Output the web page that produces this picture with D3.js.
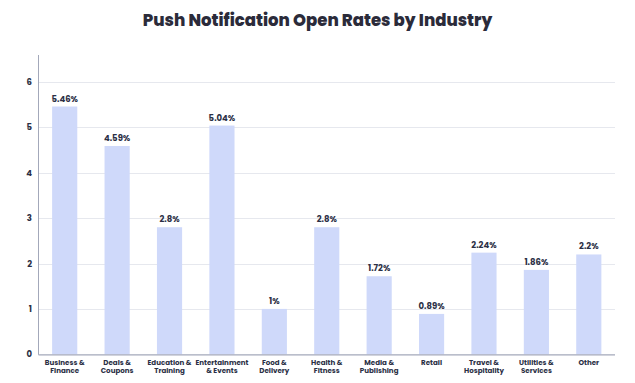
<!DOCTYPE html>
<html><head><meta charset="utf-8">
<script src="https://cdn.jsdelivr.net/npm/d3@7"></script>
<style>body{margin:0;background:#fff;}svg{display:block;font-family:"Poppins","Inter","Lato",sans-serif;}</style>
</head><body>
<script>
const categories = [["Business &","Finance"],["Deals &","Coupons"],["Education &","Training"],["Entertainment","& Events"],["Food &","Delivery"],["Health &","Fitness"],["Media &","Publishing"],["Retail"],["Travel &","Hospitality"],["Utilities &","Services"],["Other"]];
const values = [5.46,4.59,2.8,5.04,1,2.8,1.72,0.89,2.24,1.86,2.2];
const valueLabels = ["5.46%","4.59%","2.8%","5.04%","1%","2.8%","1.72%","0.89%","2.24%","1.86%","2.2%"];
const yTicks = [0,1,2,3,4,5,6];
const title = "Push Notification Open Rates by Industry";

const W=635,H=383;
const svg=d3.select("body").append("svg").attr("width",W).attr("height",H);
svg.append("text").attr("x",317.5).attr("y",26).attr("text-anchor","middle")
  .attr("font-size",16.5).attr("font-weight",800).attr("fill","#2b2b3a").text(title);

const x=d3.scaleBand().domain(d3.range(categories.length)).range([38.5,615]).paddingInner(0.52).paddingOuter(0.26);
const y=d3.scaleLinear().domain([0,6]).range([354.3,82]);

const g=svg.append("g");
g.selectAll("line.grid").data(yTicks.filter(d=>d>0)).join("line")
  .attr("x1",38.5).attr("x2",615).attr("y1",d=>Math.round(y(d))+0.5).attr("y2",d=>Math.round(y(d))+0.5)
  .attr("stroke","#e6e8ee").attr("stroke-width",1);

g.selectAll("rect").data(values).join("rect")
  .attr("x",(d,i)=>x(i)).attr("width",x.bandwidth())
  .attr("y",d=>y(d)).attr("height",d=>y(0)-y(d)).attr("fill","#cfd9fa");

g.selectAll("text.val").data(values).join("text")
  .attr("x",(d,i)=>x(i)+x.bandwidth()/2).attr("y",d=>y(d)-5)
  .attr("text-anchor","middle").attr("font-size",8.5).attr("font-weight",700).attr("fill","#2b2f45")
  .text((d,i)=>valueLabels[i]);

// axes
g.append("line").attr("x1",38.5).attr("x2",38.5).attr("y1",55).attr("y2",y(0)+0.5).attr("stroke","#a3a8ba").attr("stroke-width",1);
g.append("line").attr("x1",38.5).attr("x2",615).attr("y1",y(0)+0.5).attr("y2",y(0)+0.5).attr("stroke","#a3a8ba").attr("stroke-width",1.2);

g.selectAll("text.yt").data(yTicks).join("text")
  .attr("x",32).attr("y",d=>y(d)+3).attr("text-anchor","end")
  .attr("font-size",8.5).attr("font-weight",700).attr("fill","#2b2f45").text(d=>d);

const lines=[];
categories.forEach((d,i)=>d.forEach((s,k)=>lines.push({i,k,s})));
g.selectAll("text.xl").data(lines).join("text")
  .attr("x",d=>x(d.i)+x.bandwidth()/2).attr("y",d=>365+d.k*8.2)
  .attr("text-anchor","middle").attr("font-size",7.1).attr("font-weight",700).attr("fill","#2b2f45")
  .text(d=>d.s);
</script>
</body></html>
